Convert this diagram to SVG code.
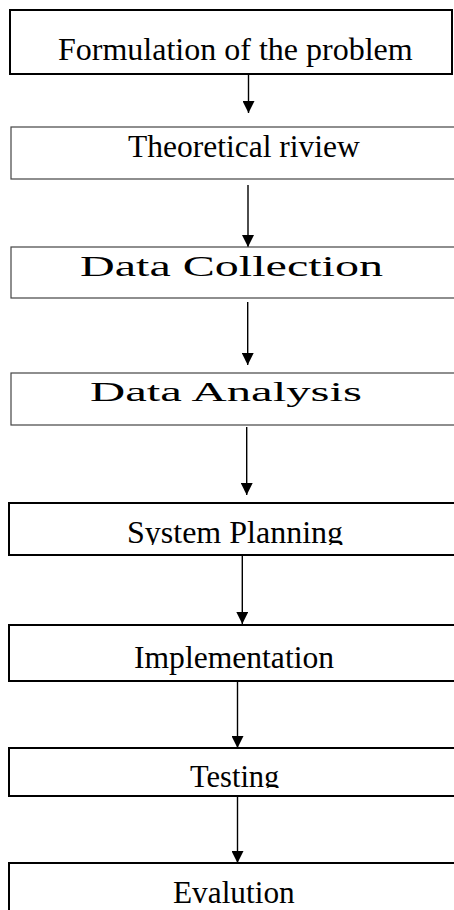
<svg xmlns="http://www.w3.org/2000/svg" width="454" height="910" viewBox="0 0 454 910">
  <style>
    .box { fill: #ffffff; stroke: #000000; }
    .thick { stroke-width: 2; }
    .thin { stroke-width: 1.2; stroke: #444444; }
    .lbl { font-family: "Liberation Serif", "Times New Roman", serif; fill: #000000; }
    .conn { stroke: #000000; stroke-width: 1.4; fill: none; marker-end: url(#arrow); }
  </style>
  <defs>
    <marker id="arrow" markerUnits="userSpaceOnUse" markerWidth="12" markerHeight="12" refX="12" refY="6" orient="auto">
      <path d="M0,0 L12,6 L0,12 Z" fill="#000000"/>
    </marker>
    <clipPath id="clipSys"><rect x="0" y="500" width="454" height="45"/></clipPath>
    <clipPath id="clipTest"><rect x="0" y="745" width="454" height="43"/></clipPath>
  </defs>

  <g id="connectors">
    <line class="conn" x1="248.5" y1="74" x2="248.5" y2="113"/>
    <line class="conn" x1="248" y1="185" x2="248" y2="247"/>
    <line class="conn" x1="247.7" y1="302" x2="247.7" y2="365"/>
    <line class="conn" x1="246.7" y1="427" x2="246.7" y2="495"/>
    <line class="conn" x1="242.3" y1="555" x2="242.3" y2="624"/>
    <line class="conn" x1="237.5" y1="681" x2="237.5" y2="748"/>
    <line class="conn" x1="237.5" y1="795" x2="237.5" y2="863"/>
  </g>

  <g id="node-formulation">
    <rect class="box thick" x="10" y="10" width="442" height="64"/>
    <text class="lbl" x="58" y="60" font-size="32">Formulation of the problem</text>
  </g>

  <g id="node-theoretical">
    <rect class="box thin" x="11" y="127" width="446" height="52"/>
    <text class="lbl" x="128" y="157" font-size="31.5">Theoretical riview</text>
  </g>

  <g id="node-collection">
    <rect class="box thin" x="11" y="247" width="446" height="51"/>
    <text class="lbl" x="80" y="276" font-size="29" textLength="303" lengthAdjust="spacingAndGlyphs">Data Collection</text>
  </g>

  <g id="node-analysis">
    <rect class="box thin" x="11" y="373" width="446" height="52"/>
    <text class="lbl" x="90" y="401" font-size="27" textLength="272" lengthAdjust="spacingAndGlyphs">Data Analysis</text>
  </g>

  <g id="node-planning">
    <rect class="box thick" x="9" y="503" width="448" height="52"/>
    <text class="lbl" x="127" y="543" font-size="32" clip-path="url(#clipSys)">System Planning</text>
  </g>

  <g id="node-implementation">
    <rect class="box thick" x="9" y="625" width="448" height="56"/>
    <text class="lbl" x="134" y="668" font-size="31.6">Implementation</text>
  </g>

  <g id="node-testing">
    <rect class="box thick" x="9" y="748" width="448" height="48"/>
    <text class="lbl" x="190" y="787" font-size="30.5" clip-path="url(#clipTest)">Testing</text>
  </g>

  <g id="node-evaluation">
    <rect class="box thick" x="9" y="863" width="448" height="60"/>
    <text class="lbl" x="173" y="903" font-size="31.3">Evalution</text>
  </g>
</svg>
